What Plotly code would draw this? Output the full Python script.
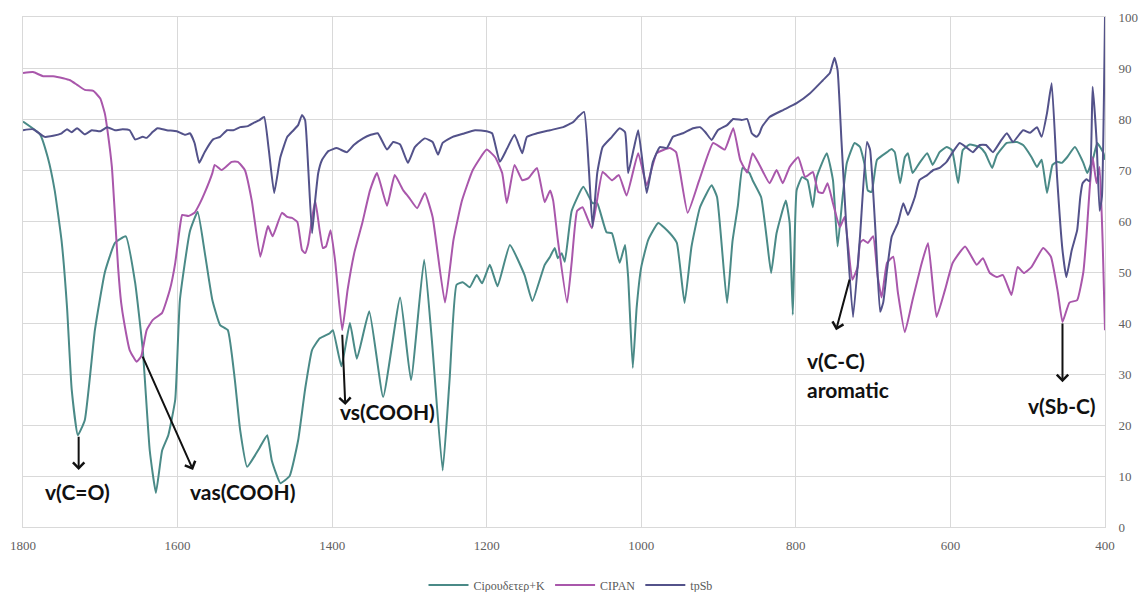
import plotly.graph_objects as go

# Wavenumber (cm-1) / transmittance (%) readings for each spectrum
cip_k_x = [1800, 1778, 1768, 1759, 1750, 1743, 1737, 1729, 1720, 1707, 1694, 1681, 1667, 1655, 1645,
           1636, 1628, 1620, 1612, 1603, 1597, 1584, 1574, 1565, 1555, 1545, 1535, 1526, 1519, 1510,
           1500, 1494, 1484, 1478, 1467, 1455, 1444, 1435, 1426, 1416, 1403, 1399, 1388, 1377, 1368,
           1352, 1334, 1312, 1298, 1281, 1271, 1257, 1248, 1239, 1231, 1222, 1213, 1206, 1196, 1186,
           1170, 1151, 1141, 1125, 1118, 1112, 1108, 1103, 1099, 1090, 1075, 1063, 1057, 1045, 1038,
           1028, 1021, 1017, 1011, 1006, 1000, 991, 978, 963, 954, 944, 935, 924, 909, 902,
           889, 882, 875, 869, 860, 856, 845, 838, 832, 825, 813, 808, 804, 799, 792,
           785, 778, 773, 760, 752, 746, 740, 734, 724, 717, 711, 707, 702, 695, 682,
           676, 672, 665, 659, 655, 649, 640, 630, 623, 614, 605, 598, 590, 584, 575,
           562, 555, 546, 540, 527, 514, 506, 495, 488, 482, 475, 468, 462, 456, 449,
           439, 428, 423, 415, 410, 402, 400]
cip_k_y = [79.5, 77.0, 72.5, 66.0, 56.0, 43.0, 27.0, 18.0, 21.0, 38.6, 50.0, 55.7, 57.0, 48.0, 34.7,
           15.0, 6.7, 15.0, 18.0, 25.0, 44.5, 58.0, 61.8, 54.0, 44.5, 39.6, 38.6, 29.0, 19.0, 11.8,
           14.0, 15.5, 18.0, 13.0, 8.6, 10.0, 17.0, 27.0, 34.7, 37.0, 38.0, 38.6, 31.5, 40.0, 33.0,
           42.3, 25.5, 45.0, 28.8, 52.4, 36.7, 11.1, 29.0, 47.5, 48.0, 47.0, 49.4, 47.8, 51.4, 47.2,
           55.3, 49.4, 44.3, 51.4, 53.0, 54.7, 52.7, 53.7, 52.0, 62.0, 66.7, 63.5, 63.5, 57.8, 57.6,
           51.8, 55.3, 49.0, 31.2, 43.0, 51.0, 56.3, 59.6, 57.6, 55.7, 43.9, 55.0, 62.7, 67.0, 64.7,
           43.9, 56.0, 63.0, 70.4, 69.4, 68.0, 64.7, 57.0, 49.8, 57.6, 64.0, 59.6, 41.6, 66.0, 68.6,
           68.0, 62.7, 68.6, 73.3, 68.0, 55.0, 64.0, 71.4, 75.3, 74.5, 71.0, 66.0, 65.7, 72.0, 73.5,
           74.1, 73.5, 67.4, 72.5, 73.3, 69.4, 71.4, 73.3, 71.0, 73.5, 74.5, 73.9, 67.4, 73.9, 75.0,
           74.5, 73.3, 70.4, 72.9, 75.3, 75.5, 74.9, 72.5, 70.6, 72.0, 65.5, 71.0, 71.6, 71.4, 72.5,
           74.5, 71.4, 69.4, 72.5, 75.3, 73.3, 72.0]

cipan_x = [1800, 1787, 1774, 1761, 1748, 1739, 1730, 1720, 1709, 1700, 1694, 1690, 1685, 1681, 1677,
           1673, 1669, 1662, 1653, 1647, 1640, 1632, 1620, 1610, 1603, 1597, 1594, 1586, 1578, 1571,
           1565, 1555, 1552, 1543, 1530, 1522, 1513, 1504, 1493, 1487, 1483, 1477, 1465, 1458, 1452,
           1445, 1439, 1435, 1431, 1422, 1416, 1412, 1408, 1402, 1396, 1387, 1380, 1371, 1361, 1351,
           1342, 1329, 1319, 1308, 1301, 1290, 1280, 1270, 1254, 1243, 1232, 1218, 1200, 1189, 1180,
           1174, 1164, 1154, 1146, 1135, 1125, 1118, 1114, 1108, 1096, 1090, 1083, 1076, 1064, 1050,
           1038, 1029, 1019, 1004, 993, 980, 963, 955, 940, 925, 907, 892, 881, 872, 863,
           856, 847, 834, 825, 817, 808, 797, 788, 778, 771, 765, 759, 752, 743, 737,
           727, 720, 717, 713, 707, 700, 694, 689, 682, 674, 668, 659, 649, 637, 629,
           618, 607, 597, 581, 566, 558, 549, 540, 532, 521, 513, 505, 495, 480, 470,
           461, 455, 446, 436, 428, 424, 420, 416, 411, 407, 403, 400]
cipan_y = [89.0, 89.2, 88.4, 88.4, 88.0, 87.6, 86.7, 85.7, 85.5, 84.0, 81.0, 77.0, 70.6, 61.0, 51.0,
           44.0, 40.0, 34.7, 32.4, 33.5, 38.6, 40.6, 42.0, 46.5, 51.8, 58.8, 61.2, 61.0, 61.6, 63.5,
           65.5, 69.4, 71.0, 70.0, 71.6, 71.6, 70.0, 64.0, 53.0, 56.7, 59.0, 57.0, 61.6, 60.8, 60.6,
           59.8, 54.3, 53.7, 55.5, 64.0, 58.0, 54.7, 55.0, 58.2, 52.0, 38.6, 46.5, 54.0, 59.6, 66.0,
           69.4, 63.0, 69.0, 66.0, 64.7, 62.5, 65.5, 60.8, 44.0, 56.3, 64.0, 70.0, 74.0, 72.5, 69.4,
           63.5, 71.0, 68.0, 68.4, 70.4, 63.7, 66.0, 64.0, 56.3, 44.0, 52.0, 62.0, 62.7, 58.6, 69.6,
           68.0, 69.0, 65.0, 73.3, 67.0, 73.3, 74.3, 73.5, 61.6, 68.0, 75.3, 74.0, 78.2, 72.0, 69.5,
           73.3, 71.0, 67.4, 70.0, 67.4, 70.6, 72.5, 68.6, 69.6, 65.7, 65.5, 67.4, 63.5, 58.8, 60.8,
           48.5, 51.0, 55.7, 56.3, 55.7, 57.0, 49.0, 45.0, 51.8, 53.0, 46.0, 38.2, 44.5, 51.8, 55.7,
           41.2, 46.5, 51.8, 55.0, 51.4, 52.7, 49.8, 49.0, 49.4, 45.5, 51.0, 49.8, 51.0, 54.7, 53.0,
           46.0, 40.2, 44.0, 44.5, 50.0, 57.0, 66.0, 72.5, 67.4, 70.6, 55.7, 38.6]

tpsb_x = [1800, 1787, 1772, 1761, 1750, 1743, 1737, 1730, 1720, 1711, 1700, 1691, 1681, 1671, 1662,
          1655, 1645, 1640, 1632, 1626, 1614, 1601, 1590, 1584, 1578, 1572, 1565, 1554, 1545, 1536,
          1528, 1519, 1509, 1502, 1494, 1488, 1482, 1475, 1467, 1458, 1450, 1444, 1439, 1435, 1431,
          1426, 1422, 1418, 1413, 1405, 1394, 1381, 1372, 1360, 1350, 1341, 1329, 1321, 1312, 1302,
          1293, 1280, 1270, 1263, 1257, 1244, 1231, 1215, 1200, 1193, 1183, 1174, 1164, 1154, 1148,
          1135, 1118, 1101, 1088, 1082, 1074, 1068, 1063, 1057, 1050, 1038, 1028, 1021, 1017, 1010,
          1004, 998, 993, 985, 976, 967, 959, 946, 933, 924, 917, 909, 901, 889, 881,
          870, 863, 857, 851, 847, 844, 834, 816, 799, 782, 765, 756, 750, 746, 741,
          735, 726, 717, 708, 704, 697, 691, 687, 682, 676, 668, 661, 655, 646, 640,
          630, 622, 614, 605, 597, 588, 580, 571, 562, 554, 545, 534, 527, 519, 506,
          497, 488, 482, 475, 469, 462, 455, 450, 443, 436, 432, 429, 424, 420, 416,
          411, 407, 404, 400]
tpsb_y = [77.8, 78.0, 76.5, 76.7, 77.2, 78.0, 77.4, 78.2, 77.0, 77.8, 77.6, 78.4, 77.8, 78.0, 77.8,
          76.0, 76.5, 76.3, 77.5, 78.2, 77.8, 77.6, 76.9, 77.2, 75.3, 71.4, 73.5, 76.0, 76.5, 77.8,
          77.8, 78.4, 78.6, 79.2, 79.8, 80.4, 74.0, 65.5, 72.5, 76.5, 77.8, 78.8, 80.8, 79.8, 70.6,
          57.6, 64.0, 69.4, 72.0, 73.7, 74.3, 73.5, 74.9, 76.2, 76.9, 77.2, 74.0, 75.5, 75.0, 71.4,
          74.5, 76.2, 75.5, 73.0, 75.3, 76.5, 77.1, 77.8, 77.6, 77.2, 71.6, 74.1, 76.9, 73.3, 76.5,
          77.2, 77.8, 78.4, 79.4, 80.4, 81.4, 70.6, 58.8, 69.4, 74.5, 76.5, 78.2, 77.4, 69.4, 74.0,
          77.8, 71.0, 65.5, 71.6, 74.5, 74.3, 76.5, 77.2, 78.2, 78.4, 77.4, 75.9, 77.8, 78.8, 80.0,
          79.8, 80.0, 77.2, 76.5, 77.2, 78.4, 80.4, 81.8, 83.1, 85.0, 87.6, 89.0, 92.0, 89.6, 75.7,
          59.6, 41.2, 57.0, 75.5, 74.0, 58.0, 42.2, 44.0, 50.4, 56.9, 59.6, 63.5, 61.2, 64.7, 68.0,
          69.0, 70.0, 70.4, 71.6, 73.5, 75.3, 74.5, 73.5, 74.9, 74.9, 73.5, 75.9, 77.2, 75.5, 77.8,
          77.3, 78.4, 76.5, 81.2, 87.0, 68.6, 54.3, 49.0, 54.3, 58.2, 64.7, 67.4, 68.2, 67.8, 86.3,
          76.0, 62.0, 64.7, 100.0]

series_names = ["Ciρουδετερ+K", "CIPAN", "tpSb"]
series_colors = ["#4a8a87", "#a957ab", "#53528a"]

# Band assignments: label text, label position, arrow tail and arrow head (data units)
band_labels = ["v(C=O)", "vas(COOH)", "vs(COOH)", "v(C-C)", "aromatic", "v(Sb-C)"]
band_label_x = [1730, 1515, 1329, 788, 788, 455]
band_label_y = [6.9, 6.9, 22.7, 32.7, 26.9, 23.9]
band_label_anchor = ["center", "center", "center", "left", "left", "center"]
arrow_tail = [(1728, 18.0), (1646, 33.7), (1387, 38.0), (730, 48.8), (455, 40.2)]
arrow_head = [(1728, 11.2), (1580, 11.2), (1383, 23.9), (748, 38.6), (455, 28.4)]

fig = go.Figure()
for xs, ys, name, color in zip([cip_k_x, cipan_x, tpsb_x], [cip_k_y, cipan_y, tpsb_y],
                               series_names, series_colors):
    fig.add_trace(go.Scatter(x=xs, y=ys, name=name, mode="lines",
                             line=dict(color=color, width=2, shape="spline", smoothing=0.4)))

annotations = []
for text, x, y, anchor in zip(band_labels, band_label_x, band_label_y, band_label_anchor):
    annotations.append(dict(x=x, y=y, xref="x", yref="y", text=text, showarrow=False,
                            xanchor=anchor, yanchor="middle",
                            font=dict(family="Lato", size=21, color="#111111", weight="bold")))
for (tx, ty), (hx, hy) in zip(arrow_tail, arrow_head):
    annotations.append(dict(x=hx, y=hy, ax=tx, ay=ty, xref="x", yref="y", axref="x", ayref="y",
                            text="", showarrow=True, arrowhead=4, arrowsize=1.1, arrowwidth=2,
                            arrowcolor="#111111", standoff=0, startstandoff=0))

tick_font = dict(family="Liberation Serif", size=13, color="#606060")
fig.update_layout(
    width=1141, height=592,
    margin=dict(l=23, r=36, t=17, b=65, autoexpand=False),
    paper_bgcolor="white", plot_bgcolor="white",
    showlegend=True,
    legend=dict(orientation="h", x=0.5, xanchor="center", xref="container",
                y=0.012, yanchor="middle", yref="container",
                font=dict(family="Liberation Serif", size=12, color="#595959"),
                itemwidth=40, tracegroupgap=0),
    annotations=annotations,
    xaxis=dict(range=[1800, 400], tickmode="linear", tick0=400, dtick=200,
               showgrid=True, gridcolor="#d9d9d9", gridwidth=1,
               showline=True, linecolor="#d9d9d9", mirror=True, zeroline=False,
               ticks="", tickfont=tick_font, ticklabelstandoff=6, automargin=False),
    yaxis=dict(range=[0, 100], tickmode="linear", tick0=0, dtick=10, side="right",
               showgrid=True, gridcolor="#d9d9d9", gridwidth=1,
               showline=True, linecolor="#d9d9d9", mirror=True, zeroline=False,
               ticks="", tickfont=tick_font, ticklabelstandoff=10, automargin=False),
)

fig.write_html("out.html")
